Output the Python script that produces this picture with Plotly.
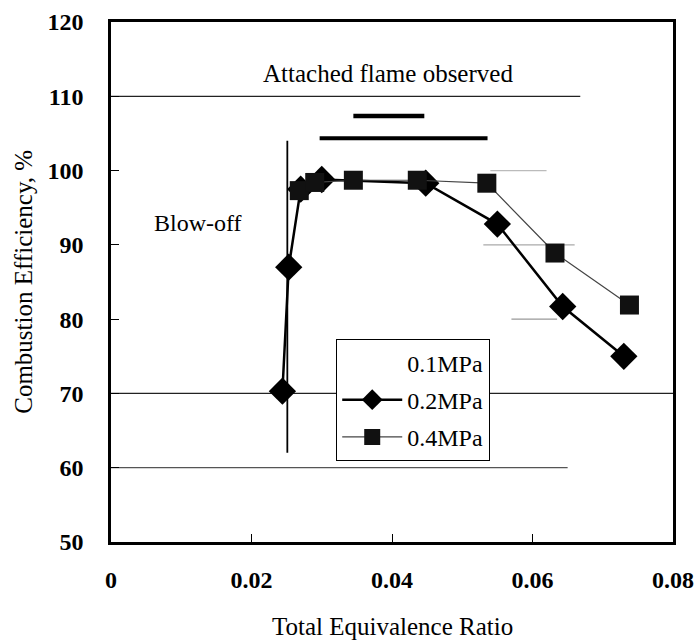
import plotly.graph_objects as go

# ---- data ----
x_02 = [0.0244, 0.0253, 0.0270, 0.0300, 0.0448, 0.0550, 0.0643, 0.0730]
y_02 = [70.3, 87.0, 97.5, 98.8, 98.3, 92.8, 81.7, 75.0]

x_04 = [0.0268, 0.0290, 0.0345, 0.0436, 0.0535, 0.0632, 0.0738]
y_04 = [97.3, 98.4, 98.7, 98.7, 98.3, 88.9, 81.9]

blowoff_x = [0.0251, 0.0251]
blowoff_y = [62.0, 104.0]

attached_upper_x = [0.0345, 0.0446]
attached_upper_y = [107.35, 107.35]
attached_lower_x = [0.0297, 0.0536]
attached_lower_y = [104.35, 104.35]

x_ticks = [0, 0.02, 0.04, 0.06, 0.08]
x_tick_labels = ["0", "0.02", "0.04", "0.06", "0.08"]
y_ticks = [50, 60, 70, 80, 90, 100, 110, 120]

# horizontal reference lines (value, x start, x end, colour)
hlines = [
    (110, 0.0, 0.0668, "#222"),
    (70, 0.0, 0.08, "#222"),
    (60, 0.0, 0.0650, "#555"),
    (100, 0.054, 0.062, "#bbb"),
    (90, 0.053, 0.066, "#aaa"),
    (80, 0.057, 0.0635, "#999"),
]

FONT = "Times New Roman, Liberation Serif, serif"

fig = go.Figure()

for v, x0, x1, c in hlines:
    fig.add_shape(type="line", xref="x", yref="y", x0=x0, x1=x1, y0=v, y1=v,
                  line=dict(color=c, width=1.3), layer="below")

fig.add_trace(go.Scatter(x=attached_upper_x, y=attached_upper_y, mode="lines",
                         line=dict(color="black", width=4.5), showlegend=False, hoverinfo="skip"))
fig.add_trace(go.Scatter(x=attached_lower_x, y=attached_lower_y, mode="lines",
                         line=dict(color="black", width=4), showlegend=False, hoverinfo="skip"))

fig.add_trace(go.Scatter(x=blowoff_x, y=blowoff_y, mode="lines",
                         line=dict(color="black", width=1.8), showlegend=False, hoverinfo="skip"))

fig.add_trace(go.Scatter(x=[None], y=[None], mode="lines", name="0.1MPa",
                         line=dict(color="white", width=1), legendgroup="a"))
fig.add_trace(go.Scatter(x=x_02, y=y_02, mode="lines+markers", name="0.2MPa",
                         line=dict(color="black", width=2.5),
                         marker=dict(symbol="diamond", size=21, color="black"),
                         legendgroup="b"))
fig.add_trace(go.Scatter(x=x_04, y=y_04, mode="lines+markers", name="0.4MPa",
                         line=dict(color="#444", width=1.2),
                         marker=dict(symbol="square", size=19, color="#111"),
                         legendgroup="c"))

fig.add_annotation(x=0.0395, y=113.1, text="Attached flame observed", showarrow=False,
                   font=dict(family=FONT, size=25, color="black"))
fig.add_annotation(x=0.01243, y=92.9, text="Blow-off", showarrow=False,
                   font=dict(family=FONT, size=24, color="black"))

# axis titles
fig.add_annotation(xref="paper", yref="paper", x=0.5, y=-0.163, text="Total Equivalence Ratio",
                   showarrow=False, xanchor="center", yanchor="middle",
                   font=dict(family=FONT, size=25, color="black"))
fig.add_annotation(xref="paper", yref="paper", x=-0.157, y=0.5, text="Combustion Efficiency, %",
                   showarrow=False, xanchor="center", yanchor="middle", textangle=-90,
                   font=dict(family=FONT, size=25, color="black"))

fig.update_layout(
    width=696, height=641,
    margin=dict(l=111, r=23, t=22, b=99),
    paper_bgcolor="white", plot_bgcolor="white",
    font=dict(family=FONT, color="black"),
    showlegend=True,
    legend=dict(x=0.4004, y=0.39, xanchor="left", yanchor="top",
                bgcolor="white", bordercolor="black", borderwidth=1.2,
                font=dict(family=FONT, size=24, color="black"),
                traceorder="grouped", tracegroupgap=3, itemwidth=60),
)

fig.update_xaxes(range=[0, 0.08], tickvals=x_ticks, ticktext=x_tick_labels,
                 showgrid=False, zeroline=False, automargin=False,
                 showline=True, linecolor="black", linewidth=2.5, mirror=True,
                 ticks="inside", ticklen=8, tickwidth=1.2, tickcolor="black",
                 tickfont=dict(family=FONT, size=24, color="black", weight="bold"),
                 ticklabelstandoff=14)
fig.update_yaxes(range=[50, 120], tickvals=y_ticks,
                 showgrid=False, zeroline=False, automargin=False,
                 showline=True, linecolor="black", linewidth=2.5, mirror=True,
                 ticks="inside", ticklen=8, tickwidth=1.2, tickcolor="black",
                 tickfont=dict(family=FONT, size=24, color="black", weight="bold"),
                 ticklabelstandoff=20)

fig.write_html("out.html")
